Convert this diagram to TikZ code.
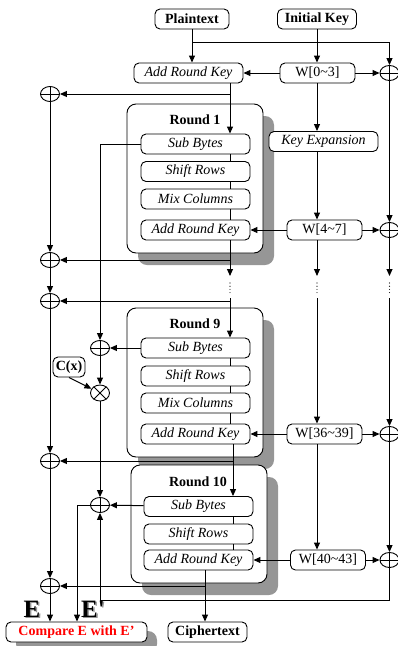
\documentclass[tikz,border=0pt]{standalone}
\usepackage{fontspec}
\setmainfont{Liberation Serif}
\usetikzlibrary{arrows.meta,shapes.geometric}
\definecolor{shadowgray}{RGB}{150,150,150}
\definecolor{ered}{RGB}{255,0,0}
\newcommand{\eshadow}[1]{\rlap{\kern1.5pt\raisebox{-1.5pt}{\color{shadowgray}#1}}#1}
\begin{document}
\begin{tikzpicture}[x=1pt,y=-1pt,line width=1pt,
  >={Triangle[length=7pt,width=6pt]},
  every node/.style={font=\fontsize{14}{16}\selectfont},
  box/.style={draw,fill=white,rounded corners=5pt,minimum height=20pt,inner sep=0pt,line width=0.9pt},
  opbox/.style={box,minimum width=109pt,font=\fontsize{14}{16}\selectfont\itshape},
  keybox/.style={box,minimum width=75pt},
  iobox/.style={box,font=\fontsize{14}{16}\selectfont\bfseries},
  rtitle/.style={font=\fontsize{14}{16}\selectfont\bfseries,inner sep=0pt},
  xorop/.style={draw,ellipse,minimum width=19pt,minimum height=15pt,inner sep=0pt,fill=white,line width=0.9pt,
     path picture={\draw[line width=0.8pt] (path picture bounding box.north) -- (path picture bounding box.south) (path picture bounding box.west) -- (path picture bounding box.east);}},
  mulop/.style={draw,ellipse,minimum width=19pt,minimum height=16pt,inner sep=0pt,fill=white,line width=0.9pt},
  roundframe/.style={draw,fill=white,rounded corners=9pt,line width=0.9pt},
  roundshadow/.style={fill=shadowgray,rounded corners=9pt},
  dotline/.style={line width=1.1pt,dash pattern=on 0pt off 3.2pt,line cap=round},
  elabel/.style={font=\fontsize{25}{25}\selectfont\bfseries,inner sep=0pt}
]
\useasboundingbox (0,0) rectangle (398,646);

% round frames with shadows
\fill[roundshadow] (138,116) rectangle (274,265);
\draw[roundframe] (127,104) rectangle (263,253);
\fill[roundshadow] (138,320) rectangle (274,469);
\draw[roundframe] (127,308) rectangle (263,457);
\fill[roundshadow] (142,477) rectangle (278,595);
\draw[roundframe] (131,465) rectangle (267,583);
\fill[roundshadow] (16,631) rectangle (157,653);

% top
\node[iobox,minimum width=74pt] (plain) at (192,19) {Plaintext};
\node[iobox,minimum width=79pt] (ikey) at (317,19) {Initial Key};
\node[opbox] (ark0) at (188.5,73) {Add Round Key};
\node[keybox] (w0) at (317.5,73) {W[0\textasciitilde3]};
\node[xorop] (xr0) at (389.5,73) {};

% round 1
\node[rtitle] (t1) at (195,120) {Round 1};
\node[opbox] (sb1) at (195.5,144) {Sub Bytes};
\node[opbox] (sr1) at (195.5,171.5) {Shift Rows};
\node[opbox] (mc1) at (195.5,199) {Mix Columns};
\node[opbox] (ak1) at (195.5,230) {Add Round Key};
\node[opbox] (kexp) at (323.5,141.5) {Key Expansion};
\node[keybox] (w1) at (324.5,230) {W[4\textasciitilde7]};
\node[xorop] (xr1) at (389.5,230) {};

% round 9
\node[rtitle] (t9) at (195,324) {Round 9};
\node[opbox] (sb9) at (195.5,348) {Sub Bytes};
\node[opbox] (sr9) at (195.5,376) {Shift Rows};
\node[opbox] (mc9) at (195.5,403) {Mix Columns};
\node[opbox] (ak9) at (195.5,434) {Add Round Key};
\node[keybox] (w9) at (324.5,434) {W[36\textasciitilde39]};
\node[xorop] (xr9) at (389.5,434) {};

% round 10
\node[rtitle] (t10) at (198,482) {Round 10};
\node[opbox] (sb10) at (198.5,506.5) {Sub Bytes};
\node[opbox] (sr10) at (198.5,534) {Shift Rows};
\node[opbox] (ak10) at (198.5,560) {Add Round Key};
\node[keybox] (w10) at (328,560) {W[40\textasciitilde43]};
\node[xorop] (xr10) at (389.5,560) {};

% left columns
\node[xorop] (xl1) at (50,94) {};
\node[xorop] (xl2) at (50,260) {};
\node[xorop] (xl3) at (50,301) {};
\node[xorop] (xl4) at (50,461) {};
\node[xorop] (xl5) at (50,586) {};
\node[xorop] (xm1) at (100,348) {};
\node[mulop] (xmul) at (100,393) {};
\draw[line width=0.8pt] (xmul.45) -- (xmul.225) (xmul.135) -- (xmul.-45);
\node[iobox,minimum width=32pt] (cx) at (69,367) {C(x)};
\node[xorop] (xm2) at (100,505) {};

% bottom
\node[iobox,minimum width=141pt,text=ered] (cmp) at (76.5,632) {Compare E with E’};
\node[iobox,minimum width=79pt] (cipher) at (207.5,632) {Ciphertext};
\node[elabel] (eA) at (32,610) {\eshadow{E}};
\node[elabel] (eB) at (93,610) {\eshadow{E\textquotesingle}};

% column coordinates
\coordinate (cA) at (230,0);
\coordinate (cB) at (233,0);
\coordinate (cC) at (205,0);
\coordinate (cK) at (317,0);
\coordinate (cR) at (389.5,0);
\coordinate (cE) at (77,0);
\coordinate (j0) at (192,42);
\coordinate (d1) at (0,276);
\coordinate (d2) at (0,298);
\coordinate (b2) at (100,600);
\coordinate (dA1) at (230,283);
\coordinate (dA2) at (230,293);
\coordinate (dK1) at (317,283);
\coordinate (dK2) at (317,293);
\coordinate (dR1) at (389.5,283);
\coordinate (dR2) at (389.5,293);

% connectors: top
\draw[->] (plain.south) -- (plain.south |- ark0.north);
\draw[->] (j0) -| (xr0);
\draw[->] (ikey.south) -- (ikey.south |- w0.north);
\draw[->] (w0) -- (ark0);
\draw[->] (w0) -- (xr0);
\draw[->] (w0.south -| cK) -- (kexp.north -| cK);
\draw[->] (kexp.south -| cK) -- (w1.north -| cK);

% data path
\draw[->] (ark0.south -| cA) -- (sb1.north -| cA);
\draw[->] (cA |- xl1) -- (xl1);
\draw (sb1.south -| cA) -- (sr1.north -| cA);
\draw (sr1.south -| cA) -- (mc1.north -| cA);
\draw (mc1.south -| cA) -- (ak1.north -| cA);
\draw[->] (ak1.south -| cA) -- (cA |- d1);
\draw[dotline] (dA1) -- (dA2);
\draw[->] (cA |- xl2) -- (xl2);
\draw[->] (cA |- xl3) -- (xl3);
\draw[->] (cA |- d2) -- (sb9.north -| cA);
\draw (sb9.south -| cA) -- (sr9.north -| cA);
\draw (sr9.south -| cA) -- (mc9.north -| cA);
\draw (mc9.south -| cA) -- (ak9.north -| cA);
\draw[->] (ak9.south -| cB) -- (sb10.north -| cB);
\draw[->] (cB |- xl4) -- (xl4);
\draw (sb10.south -| cB) -- (sr10.north -| cB);
\draw (sr10.south -| cB) -- (ak10.north -| cB);
\draw[->] (ak10.south -| cC) -- (cipher.north -| cC);
\draw[->] (cC |- xl5) -- (xl5);

% key path
\draw[->] (w1) -- (ak1);
\draw[->] (w1) -- (xr1);
\draw[->] (w1.south -| cK) -- (cK |- d1);
\draw[dotline] (dK1) -- (dK2);
\draw[->] (cK |- d2) -- (w9.north -| cK);
\draw[->] (w9) -- (ak9);
\draw[->] (w9) -- (xr9);
\draw[->] (w9.south -| cK) -- (w10.north -| cK);
\draw[->] (w10) -- (ak10);
\draw[->] (w10) -- (xr10);

% right column
\draw[->] (xr0) -- (xr1);
\draw[->] (xr1) -- (cR |- d1);
\draw[dotline] (dR1) -- (dR2);
\draw[->] (cR |- d2) -- (xr9);
\draw[->] (xr9) -- (xr10);
\draw[->] (xr10) |- (b2) -- (xm2);

% left column
\draw[->] (xl1) -- (xl2);
\draw[->] (xl2) -- (xl3);
\draw[->] (xl3) -- (xl4);
\draw[->] (xl4) -- (xl5);
\draw[->] (xl5) -- (xl5 |- cmp.north);

% fault path
\draw[->] (sb1.west) -| (xm1);
\draw[->] (sb9) -- (xm1);
\draw[->] (xm1) -- (xmul);
\draw[->] (cx.south) -- (xmul);
\draw[->] (xmul) -- (xm2);
\draw[->] (sb10) -- (xm2);
\draw[->] (xm2.west) -| (cmp.north -| cE);
\end{tikzpicture}
\end{document}
